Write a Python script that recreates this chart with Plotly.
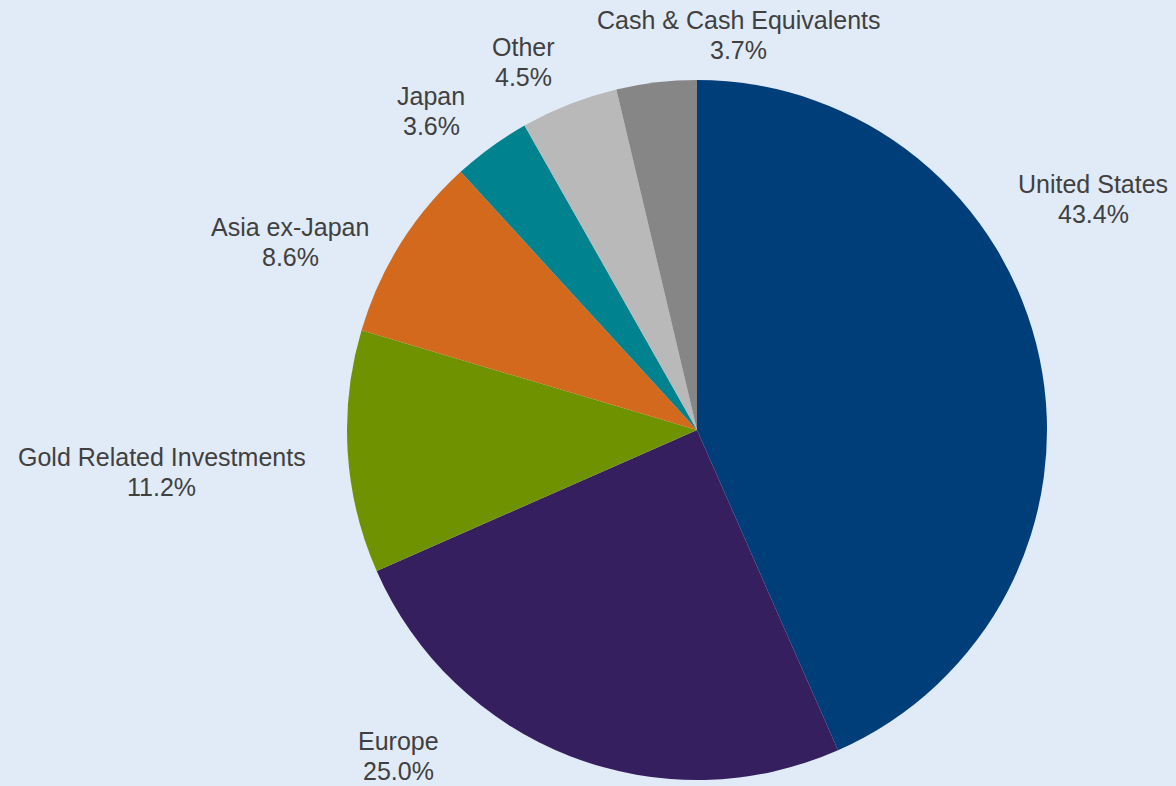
import plotly.graph_objects as go

# Data
categories = ["United States", "Europe", "Gold Related Investments", "Asia ex-Japan",
              "Japan", "Other", "Cash & Cash Equivalents"]
values = [43.4, 25.0, 11.2, 8.6, 3.6, 4.5, 3.7]
colors = ["#003E79", "#361F5E", "#6F9300", "#D2691D", "#00838E", "#B9B9B9", "#868686"]

W, H = 1176, 786
BG = "#E1EBF8"
# label positions (pixel centre x, centre y of first line)
label_pos = {
    "United States": (1093, 184),
    "Europe": (398, 741),
    "Gold Related Investments": (162, 457),
    "Asia ex-Japan": (290, 227),
    "Japan": (431, 96),
    "Other": (523, 47),
    "Cash & Cash Equivalents": (738, 20),
}
LINE_GAP = 30

cx, cy, r = 697, 430, 350

fig = go.Figure(go.Pie(
    labels=categories,
    values=values,
    sort=False,
    direction="clockwise",
    rotation=0,
    marker=dict(colors=colors, line=dict(width=0)),
    textinfo="none",
    hoverinfo="label+percent",
    domain=dict(x=[(cx - r) / W, (cx + r) / W], y=[1 - (cy + r) / H, 1 - (cy - r) / H]),
    showlegend=False,
))

font = dict(family="Liberation Sans, Arial, sans-serif", size=25, color="#404040")
total = sum(values)
for cat, val in zip(categories, values):
    px, py = label_pos[cat]
    for i, txt in enumerate([cat, f"{val / total * 100:.1f}%"]):
        fig.add_annotation(
            x=px / W, y=1 - (py + i * LINE_GAP) / H, xref="paper", yref="paper",
            text=txt, showarrow=False, xanchor="center", yanchor="middle",
            borderpad=0, font=font,
        )

fig.update_layout(
    width=W, height=H,
    margin=dict(l=0, r=0, t=0, b=0),
    paper_bgcolor=BG,
    plot_bgcolor=BG,
)

fig.write_html(
    "out.html",
    config={"displayModeBar": False},
    post_script=f"document.body.style.margin='0';document.body.style.background='{BG}';",
)
